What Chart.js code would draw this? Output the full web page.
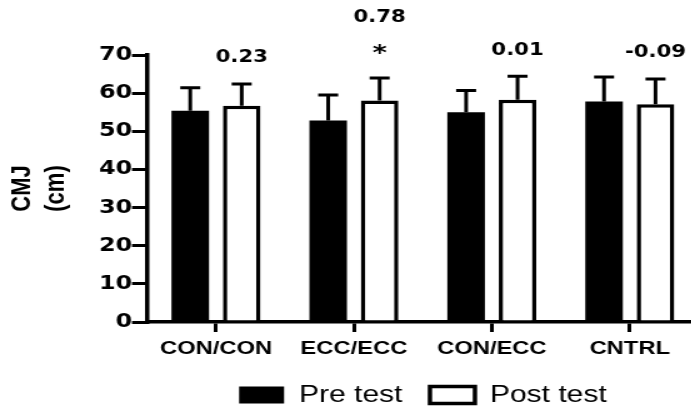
<!DOCTYPE html>
<html>
<head>
<meta charset="utf-8">
<script src="https://cdn.jsdelivr.net/npm/chart.js@4/dist/chart.umd.min.js"></script>
<style>
html, body { margin: 0; padding: 0; background: #fff; overflow: hidden; }
</style>
</head>
<body>
<!-- the original figure is stretched sideways, so the canvas is drawn narrow and widened by css -->
<canvas id="cmjChart" width="560" height="406" style="width:700px;height:406px"></canvas>
<script>
let groups = ['CON/CON', 'ECC/ECC', 'CON/ECC', 'CNTRL']
let preTest = [55.4, 52.8, 55.0, 57.8]
let preTestSD = [6.0, 6.7, 5.7, 6.4]
let postTest = [56.7, 58.1, 58.3, 57.1]
let postTestSD = [5.7, 5.9, 6.1, 6.6]
let effectSize = ['0.23', '0.78', '0.01', '-0.09']
let significant = ['', '*', '', '']
let yTicks = [0, 10, 20, 30, 40, 50, 60, 70]

// sd whiskers (upper only) and effect sizes above the post bars
let errorBarPlugin = {
    id: 'errorBars',
    afterDatasetsDraw(chart) {
        let ctx = chart.ctx
        let y = chart.scales.y
        let sds = [preTestSD, postTestSD]
        ctx.save()
        ctx.strokeStyle = '#000'
        ctx.lineWidth = 3
        chart.data.datasets.forEach(function (ds, i) {
            chart.getDatasetMeta(i).data.forEach(function (bar, j) {
                let top = y.getPixelForValue(ds.data[j] + sds[i][j])
                ctx.beginPath()
                ctx.moveTo(bar.x, bar.y)
                ctx.lineTo(bar.x, top)
                ctx.moveTo(bar.x - 8, top)
                ctx.lineTo(bar.x + 8, top)
                ctx.stroke()
            })
        })
        ctx.fillStyle = '#000'
        ctx.textAlign = 'center'
        ctx.textBaseline = 'middle'
        chart.getDatasetMeta(1).data.forEach(function (bar, j) {
            let top = y.getPixelForValue(postTest[j] + postTestSD[j])
            let ly = top - 26
            if (significant[j]) {
                ctx.font = 'bold 22px "DejaVu Sans"'
                ctx.fillText(significant[j], bar.x, top - 24)
                ly = top - 60
            }
            ctx.font = 'bold 17px "DejaVu Sans"'
            ctx.fillText(effectSize[j], bar.x, ly)
        })
        ctx.restore()
    }
}

let ctx = document.getElementById('cmjChart').getContext('2d')
window.cmjChart = new Chart(ctx, {
    type: 'bar',
    data: {
        labels: groups,
        datasets: [{
            label: 'Pre test',
            data: preTest,
            backgroundColor: '#000',
            borderColor: '#000',
            borderWidth: 0
        }, {
            label: 'Post test',
            data: postTest,
            backgroundColor: '#fff',
            borderColor: '#000',
            borderWidth: 3.5
        }]
    },
    options: {
        responsive: false,
        animation: false,
        devicePixelRatio: 1,
        categoryPercentage: 0.746,
        barPercentage: 0.73,
        layout: { padding: { top: 55, left: 4, right: 1, bottom: 0 } },
        plugins: {
            legend: {
                position: 'bottom',
                fullSize: false,
                maxHeight: 45,
                labels: {
                    color: '#000',
                    boxWidth: 36,
                    boxHeight: 17,
                    padding: 22,
                    font: { family: 'Liberation Sans', size: 24 }
                }
            },
            tooltip: { enabled: false }
        },
        scales: {
            x: {
                offset: true,
                grid: { drawOnChartArea: false, offset: false, tickLength: 10, color: '#000', lineWidth: 3 },
                border: { color: '#000', width: 3.5 },
                ticks: {
                    color: '#000',
                    padding: 5,
                    maxRotation: 0,
                    autoSkip: false,
                    font: { family: 'Liberation Sans', weight: 'bold', size: 19 }
                },
                afterFit: function (s) { s.height = 39 }
            },
            y: {
                min: 0,
                max: 70,
                afterBuildTicks: function (s) { s.ticks = yTicks.map(v => ({ value: v })) },
                grid: { drawOnChartArea: false, tickLength: 12, color: '#000', lineWidth: 3 },
                border: { color: '#000', width: 3.5 },
                ticks: {
                    color: '#000',
                    padding: 0,
                    font: { family: 'DejaVu Sans', weight: 'bold', size: 19 }
                },
                title: {
                    display: true,
                    text: ['CMJ', '(cm)'],
                    color: '#000',
                    padding: { top: 0, bottom: 0 },
                    font: { family: 'Liberation Sans', weight: 'bold', size: 22, lineHeight: 1.25 }
                },
                afterFit: function (s) { s.width = 113.6 }
            }
        }
    },
    plugins: [errorBarPlugin]
})
</script>
</body>
</html>
